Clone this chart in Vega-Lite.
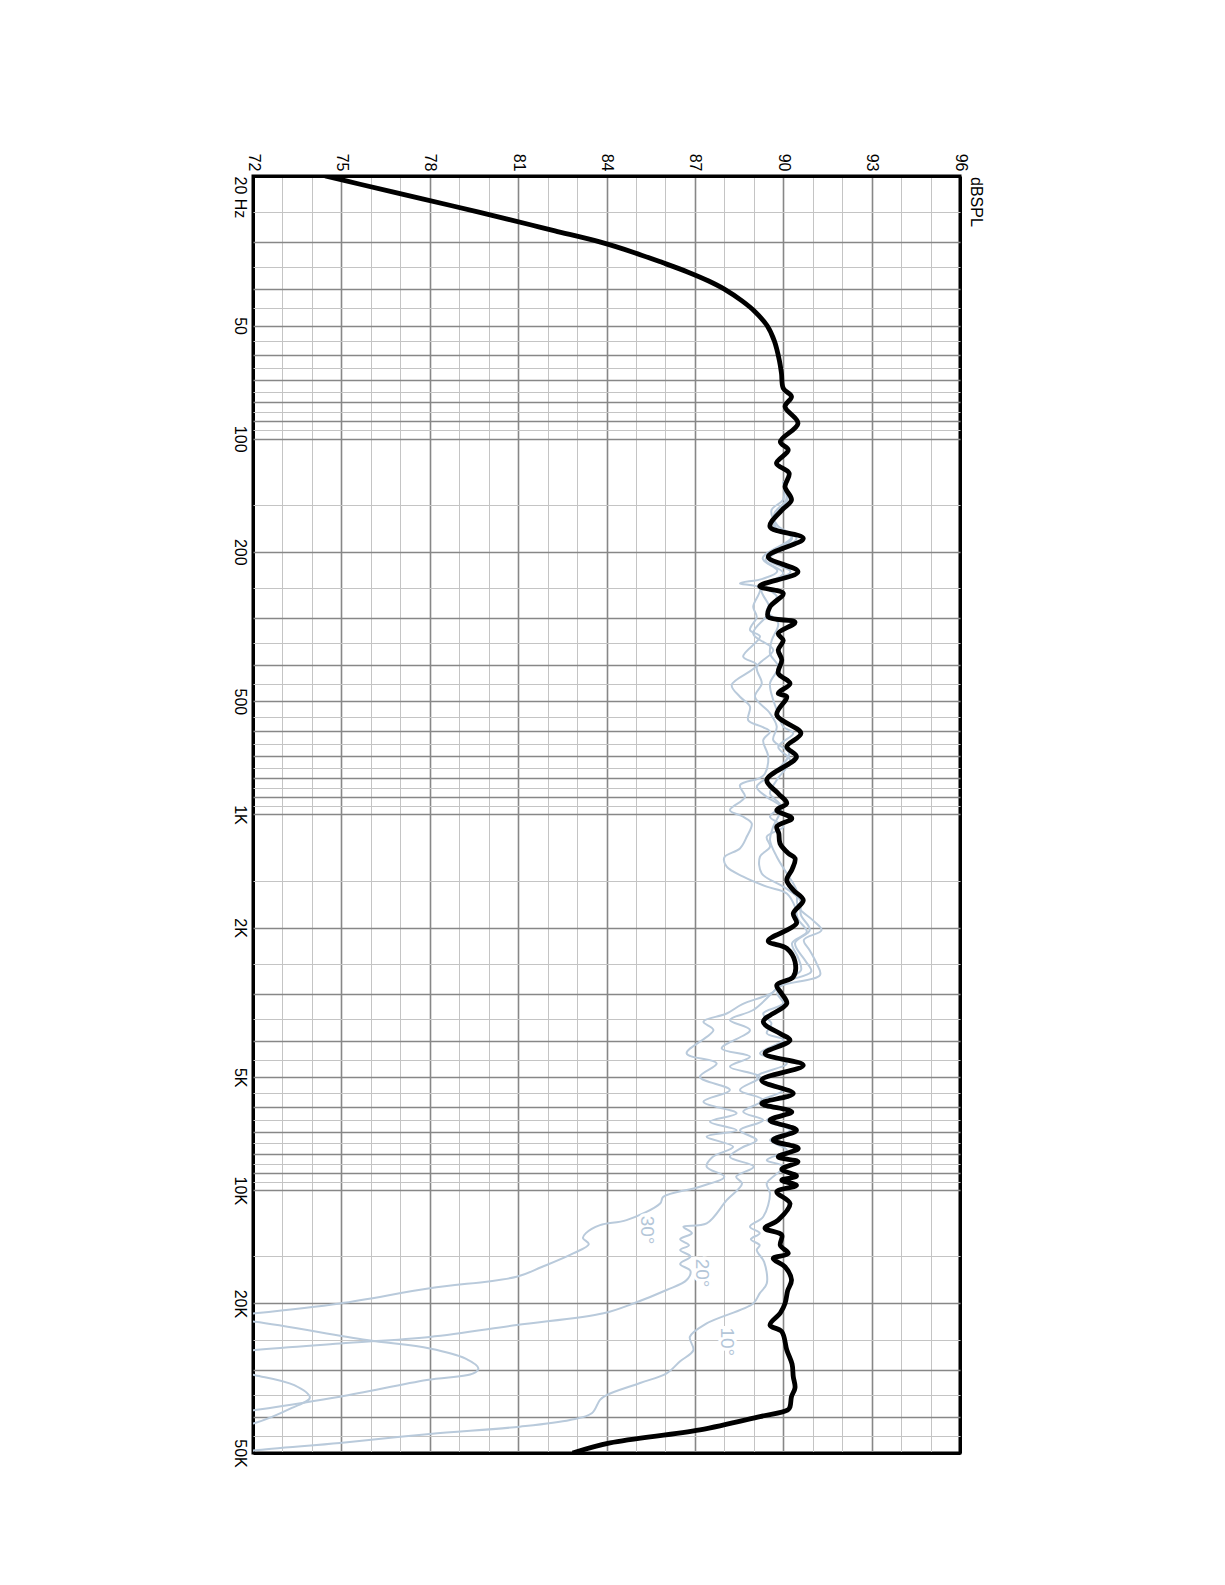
{
  "$schema": "https://vega.github.io/schema/vega-lite/v6.json",
  "width": 707,
  "height": 1277,
  "autosize": {"type": "none"},
  "padding": {"left": 253, "top": 176, "right": 265, "bottom": 132},
  "background": "white",
  "config": {
    "view": {"stroke": "black", "strokeWidth": 3},
    "axis": {"labelFont": "Liberation Sans", "labelFontSize": 16, "labelColor": "black", "domain": false, "ticks": false, "tickSize": 0, "title": null, "labelOverlap": false, "labelFlush": false, "labelBound": false}
  },
  "datasets": {
    "resp": [
      {"series":"0","freq":20,"spl":74.45},{"series":"0","freq":21,"spl":75.6},{"series":"0","freq":22,"spl":76.7},{"series":"0","freq":23,"spl":77.75},{"series":"0","freq":24,"spl":78.75},{"series":"0","freq":25,"spl":79.7},{"series":"0","freq":26,"spl":80.6},{"series":"0","freq":27,"spl":81.45},{"series":"0","freq":28,"spl":82.25},{"series":"0","freq":30,"spl":83.8},{"series":"0","freq":32,"spl":84.95},{"series":"0","freq":34,"spl":85.9},{"series":"0","freq":36,"spl":86.75},{"series":"0","freq":38,"spl":87.45},{"series":"0","freq":40,"spl":88.0},{"series":"0","freq":43,"spl":88.6},{"series":"0","freq":46,"spl":89.05},{"series":"0","freq":50,"spl":89.45},{"series":"0","freq":55,"spl":89.7},{"series":"0","freq":62,"spl":89.87},{"series":"0","freq":67,"spl":89.94},{"series":"0","freq":73.4,"spl":90.0},{"series":"0","freq":77.3,"spl":90.28},{"series":"0","freq":82.2,"spl":90.06},{"series":"0","freq":91,"spl":90.5},{"series":"0","freq":101.9,"spl":89.9},{"series":"0","freq":107.2,"spl":90.17},{"series":"0","freq":116.3,"spl":89.77},{"series":"0","freq":123.6,"spl":90.2},{"series":"0","freq":134.2,"spl":90.06},{"series":"0","freq":145.6,"spl":90.28},{"series":"0","freq":155,"spl":89.95},{"series":"0","freq":171.5,"spl":89.55},{"series":"0","freq":184.2,"spl":90.68},{"series":"0","freq":206,"spl":89.49},{"series":"0","freq":226,"spl":90.5},{"series":"0","freq":247,"spl":89.2},{"series":"0","freq":258,"spl":90.0},{"series":"0","freq":280,"spl":89.55},{"series":"0","freq":298,"spl":89.49},{"series":"0","freq":308,"spl":90.4},{"series":"0","freq":330,"spl":89.83},{"series":"0","freq":344,"spl":90.0},{"series":"0","freq":365,"spl":89.83},{"series":"0","freq":388,"spl":89.95},{"series":"0","freq":421,"spl":89.83},{"series":"0","freq":448,"spl":90.23},{"series":"0","freq":476,"spl":89.83},{"series":"0","freq":486,"spl":90.12},{"series":"0","freq":543,"spl":89.78},{"series":"0","freq":608,"spl":90.6},{"series":"0","freq":660,"spl":90.12},{"series":"0","freq":702,"spl":90.45},{"series":"0","freq":809,"spl":89.44},{"series":"0","freq":879,"spl":89.83},{"series":"0","freq":934,"spl":90.12},{"series":"0","freq":973,"spl":89.78},{"series":"0","freq":1024,"spl":90.29},{"series":"0","freq":1077,"spl":89.78},{"series":"0","freq":1123,"spl":89.85},{"series":"0","freq":1194,"spl":89.89},{"series":"0","freq":1268,"spl":90.17},{"series":"0","freq":1308,"spl":90.4},{"series":"0","freq":1400,"spl":90.3},{"series":"0","freq":1494,"spl":90.12},{"series":"0","freq":1588,"spl":90.34},{"series":"0","freq":1690,"spl":90.68},{"series":"0","freq":1833,"spl":90.34},{"series":"0","freq":1949,"spl":90.45},{"series":"0","freq":2170,"spl":89.49},{"series":"0","freq":2270,"spl":90.12},{"series":"0","freq":2465,"spl":90.4},{"series":"0","freq":2703,"spl":90.34},{"series":"0","freq":2845,"spl":89.78},{"series":"0","freq":3000,"spl":89.95},{"series":"0","freq":3184,"spl":90.12},{"series":"0","freq":3560,"spl":89.32},{"series":"0","freq":3828,"spl":89.89},{"series":"0","freq":3985,"spl":90.23},{"series":"0","freq":4325,"spl":89.38},{"series":"0","freq":4646,"spl":90.68},{"series":"0","freq":5092,"spl":89.27},{"series":"0","freq":5525,"spl":90.34},{"series":"0","freq":5875,"spl":89.27},{"series":"0","freq":6185,"spl":90.29},{"series":"0","freq":6507,"spl":89.55},{"series":"0","freq":6920,"spl":90.45},{"series":"0","freq":7353,"spl":89.66},{"series":"0","freq":7734,"spl":90.51},{"series":"0","freq":8145,"spl":89.83},{"series":"0","freq":8396,"spl":90.5},{"series":"0","freq":8790,"spl":89.95},{"series":"0","freq":9160,"spl":90.45},{"series":"0","freq":9400,"spl":89.95},{"series":"0","freq":9700,"spl":90.45},{"series":"0","freq":10090,"spl":89.78},{"series":"0","freq":10840,"spl":90.23},{"series":"0","freq":12000,"spl":89.83},{"series":"0","freq":12620,"spl":89.38},{"series":"0","freq":13150,"spl":89.95},{"series":"0","freq":14000,"spl":89.9},{"series":"0","freq":14720,"spl":90.17},{"series":"0","freq":15180,"spl":89.66},{"series":"0","freq":15980,"spl":90.06},{"series":"0","freq":17320,"spl":90.28},{"series":"0","freq":18500,"spl":90.15},{"series":"0","freq":20000,"spl":90.06},{"series":"0","freq":21200,"spl":89.9},{"series":"0","freq":22820,"spl":89.55},{"series":"0","freq":23770,"spl":89.95},{"series":"0","freq":26590,"spl":90.12},{"series":"0","freq":29000,"spl":90.3},{"series":"0","freq":31320,"spl":90.34},{"series":"0","freq":33500,"spl":90.4},{"series":"0","freq":35400,"spl":90.28},{"series":"0","freq":37660,"spl":90.23},{"series":"0","freq":38430,"spl":90.15},{"series":"0","freq":40000,"spl":89.21},{"series":"0","freq":43400,"spl":87.17},{"series":"0","freq":47000,"spl":84.12},{"series":"0","freq":50000,"spl":82.85},

      {"series":"10","freq":130,"spl":90.0},{"series":"10","freq":145,"spl":90.15},{"series":"10","freq":158,"spl":89.75},{"series":"10","freq":172,"spl":89.7},{"series":"10","freq":184,"spl":90.45},{"series":"10","freq":210,"spl":89.5},{"series":"10","freq":226,"spl":90.25},{"series":"10","freq":246,"spl":89.35},{"series":"10","freq":263,"spl":89.78},{"series":"10","freq":286,"spl":89.44},{"series":"10","freq":310,"spl":89.83},{"series":"10","freq":344,"spl":89.61},{"series":"10","freq":373,"spl":89.55},{"series":"10","freq":405,"spl":89.83},{"series":"10","freq":448,"spl":89.55},{"series":"10","freq":496,"spl":89.66},{"series":"10","freq":527,"spl":89.78},{"series":"10","freq":584,"spl":90.0},{"series":"10","freq":608,"spl":90.34},{"series":"10","freq":661,"spl":89.83},{"series":"10","freq":717,"spl":90.23},{"series":"10","freq":810,"spl":89.78},{"series":"10","freq":879,"spl":89.55},{"series":"10","freq":953,"spl":89.94},{"series":"10","freq":1077,"spl":89.66},{"series":"10","freq":1169,"spl":89.55},{"series":"10","freq":1295,"spl":89.78},{"series":"10","freq":1435,"spl":90.12},{"series":"10","freq":1590,"spl":90.45},{"series":"10","freq":1760,"spl":90.5},{"series":"10","freq":1910,"spl":91.0},{"series":"10","freq":2030,"spl":91.3},{"series":"10","freq":2158,"spl":90.7},{"series":"10","freq":2300,"spl":90.9},{"series":"10","freq":2490,"spl":91.13},{"series":"10","freq":2673,"spl":91.25},{"series":"10","freq":2871,"spl":89.89},{"series":"10","freq":3000,"spl":89.8},{"series":"10","freq":3180,"spl":90.0},{"series":"10","freq":3385,"spl":89.32},{"series":"10","freq":3600,"spl":89.6},{"series":"10","freq":3820,"spl":89.44},{"series":"10","freq":3980,"spl":90.0},{"series":"10","freq":4322,"spl":89.21},{"series":"10","freq":4594,"spl":90.12},{"series":"10","freq":4990,"spl":89.1},{"series":"10","freq":5410,"spl":90.0},{"series":"10","freq":5810,"spl":89.21},{"series":"10","freq":6180,"spl":90.12},{"series":"10","freq":6510,"spl":89.44},{"series":"10","freq":6920,"spl":90.23},{"series":"10","freq":7350,"spl":89.55},{"series":"10","freq":7810,"spl":90.12},{"series":"10","freq":8310,"spl":89.44},{"series":"10","freq":8650,"spl":90.0},{"series":"10","freq":9590,"spl":89.44},{"series":"10","freq":10190,"spl":89.55},{"series":"10","freq":11760,"spl":89.32},{"series":"10","freq":12500,"spl":88.87},{"series":"10","freq":13000,"spl":89.2},{"series":"10","freq":13500,"spl":88.9},{"series":"10","freq":14000,"spl":89.2},{"series":"10","freq":14420,"spl":89.1},{"series":"10","freq":15500,"spl":89.35},{"series":"10","freq":17700,"spl":89.44},{"series":"10","freq":18800,"spl":89.2},{"series":"10","freq":20000,"spl":88.98},{"series":"10","freq":22600,"spl":87.4},{"series":"10","freq":24540,"spl":86.83},{"series":"10","freq":26620,"spl":86.95},{"series":"10","freq":28500,"spl":86.5},{"series":"10","freq":30700,"spl":86.04},{"series":"10","freq":32560,"spl":85.14},{"series":"10","freq":35060,"spl":84.0},{"series":"10","freq":36100,"spl":83.78},{"series":"10","freq":39200,"spl":83.5},{"series":"10","freq":40850,"spl":82.76},{"series":"10","freq":42550,"spl":81.06},{"series":"10","freq":44500,"spl":78.0},{"series":"10","freq":47000,"spl":74.95},{"series":"10","freq":49200,"spl":72.07},{"series":"10","freq":50000,"spl":71.5},

      {"series":"20","freq":130,"spl":90.0},{"series":"20","freq":145,"spl":90.1},{"series":"20","freq":158,"spl":89.7},{"series":"20","freq":172,"spl":89.75},{"series":"20","freq":184,"spl":90.3},{"series":"20","freq":210,"spl":89.4},{"series":"20","freq":228,"spl":90.0},{"series":"20","freq":250,"spl":89.25},{"series":"20","freq":286,"spl":89.55},{"series":"20","freq":330,"spl":88.98},{"series":"20","freq":365,"spl":89.66},{"series":"20","freq":405,"spl":89.1},{"series":"20","freq":448,"spl":89.27},{"series":"20","freq":486,"spl":89.04},{"series":"20","freq":538,"spl":89.55},{"series":"20","freq":584,"spl":89.78},{"series":"20","freq":634,"spl":89.66},{"series":"20","freq":688,"spl":90.2},{"series":"20","freq":778,"spl":89.66},{"series":"20","freq":844,"spl":89.1},{"series":"20","freq":898,"spl":89.44},{"series":"20","freq":953,"spl":89.89},{"series":"20","freq":1014,"spl":89.55},{"series":"20","freq":1077,"spl":90.0},{"series":"20","freq":1146,"spl":89.44},{"series":"20","freq":1219,"spl":89.55},{"series":"20","freq":1295,"spl":89.21},{"series":"20","freq":1435,"spl":89.27},{"series":"20","freq":1556,"spl":90.0},{"series":"20","freq":1690,"spl":90.57},{"series":"20","freq":1850,"spl":90.6},{"series":"20","freq":2030,"spl":90.9},{"series":"20","freq":2200,"spl":90.4},{"series":"20","freq":2450,"spl":90.75},{"series":"20","freq":2620,"spl":90.95},{"series":"20","freq":2800,"spl":90.0},{"series":"20","freq":3000,"spl":89.6},{"series":"20","freq":3313,"spl":88.98},{"series":"20","freq":3524,"spl":88.19},{"series":"20","freq":3747,"spl":88.87},{"series":"20","freq":4190,"spl":87.91},{"series":"20","freq":4410,"spl":88.87},{"series":"20","freq":4690,"spl":88.19},{"series":"20","freq":4990,"spl":89.21},{"series":"20","freq":5410,"spl":88.53},{"series":"20","freq":5750,"spl":89.32},{"series":"20","freq":6180,"spl":88.64},{"series":"20","freq":6510,"spl":89.32},{"series":"20","freq":6920,"spl":88.53},{"series":"20","freq":7350,"spl":89.1},{"series":"20","freq":7700,"spl":88.6},{"series":"20","freq":8150,"spl":88.19},{"series":"20","freq":8650,"spl":89.0},{"series":"20","freq":9200,"spl":88.4},{"series":"20","freq":9590,"spl":88.6},{"series":"20","freq":10620,"spl":88.08},{"series":"20","freq":12250,"spl":87.4},{"series":"20","freq":12500,"spl":86.61},{"series":"20","freq":13000,"spl":86.9},{"series":"20","freq":13500,"spl":86.5},{"series":"20","freq":14000,"spl":86.8},{"series":"20","freq":14420,"spl":86.5},{"series":"20","freq":15000,"spl":86.85},{"series":"20","freq":15700,"spl":86.5},{"series":"20","freq":16400,"spl":86.85},{"series":"20","freq":17330,"spl":86.72},{"series":"20","freq":18420,"spl":86.04},{"series":"20","freq":20000,"spl":84.91},{"series":"20","freq":21240,"spl":83.9},{"series":"20","freq":22830,"spl":80.95},{"series":"20","freq":24550,"spl":78.0},{"series":"20","freq":25550,"spl":74.95},{"series":"20","freq":26600,"spl":72.07},{"series":"20","freq":28000,"spl":69.5},{"series":"20","freq":29500,"spl":70.5},{"series":"20","freq":31040,"spl":72.07},{"series":"20","freq":33000,"spl":73.4},{"series":"20","freq":35600,"spl":73.93},{"series":"20","freq":38000,"spl":73.3},{"series":"20","freq":41600,"spl":72.07},{"series":"20","freq":44000,"spl":70.0},{"series":"20","freq":47000,"spl":68.5},{"series":"20","freq":50000,"spl":68.0},

      {"series":"30","freq":130,"spl":90.0},{"series":"30","freq":145,"spl":90.0},{"series":"30","freq":155,"spl":89.6},{"series":"30","freq":170,"spl":89.8},{"series":"30","freq":182,"spl":90.3},{"series":"30","freq":208,"spl":89.3},{"series":"30","freq":225,"spl":89.8},{"series":"30","freq":236,"spl":89.3},{"series":"30","freq":242.7,"spl":88.53},{"series":"30","freq":250,"spl":89.21},{"series":"30","freq":280,"spl":88.98},{"series":"30","freq":298,"spl":89.1},{"series":"30","freq":323,"spl":88.87},{"series":"30","freq":336,"spl":89.21},{"series":"30","freq":380,"spl":88.64},{"series":"30","freq":400,"spl":89.1},{"series":"30","freq":452,"spl":88.25},{"series":"30","freq":486,"spl":88.53},{"series":"30","freq":516,"spl":88.87},{"series":"30","freq":561,"spl":88.81},{"series":"30","freq":584,"spl":89.27},{"series":"30","freq":602,"spl":89.55},{"series":"30","freq":634,"spl":89.32},{"series":"30","freq":702,"spl":89.49},{"series":"30","freq":778,"spl":89.38},{"series":"30","freq":800,"spl":89.2},{"series":"30","freq":836,"spl":88.53},{"series":"30","freq":898,"spl":88.7},{"series":"30","freq":973,"spl":88.19},{"series":"30","freq":1014,"spl":88.64},{"series":"30","freq":1057,"spl":88.93},{"series":"30","freq":1146,"spl":88.76},{"series":"30","freq":1231,"spl":88.53},{"series":"30","freq":1300,"spl":88.0},{"series":"30","freq":1377,"spl":88.08},{"series":"30","freq":1463,"spl":88.64},{"series":"30","freq":1556,"spl":89.44},{"series":"30","freq":1622,"spl":90.12},{"series":"30","freq":1760,"spl":90.4},{"series":"30","freq":1900,"spl":90.5},{"series":"30","freq":2050,"spl":90.8},{"series":"30","freq":2200,"spl":90.3},{"series":"30","freq":2400,"spl":90.5},{"series":"30","freq":2600,"spl":90.6},{"series":"30","freq":2800,"spl":89.9},{"series":"30","freq":2966,"spl":89.66},{"series":"30","freq":3200,"spl":88.6},{"series":"30","freq":3385,"spl":88.08},{"series":"30","freq":3560,"spl":87.29},{"series":"30","freq":3747,"spl":87.63},{"series":"30","freq":4322,"spl":86.72},{"series":"30","freq":4594,"spl":87.74},{"series":"30","freq":4990,"spl":87.17},{"series":"30","freq":5410,"spl":88.19},{"series":"30","freq":5810,"spl":87.29},{"series":"30","freq":6240,"spl":88.42},{"series":"30","freq":6570,"spl":87.51},{"series":"30","freq":6920,"spl":88.42},{"series":"30","freq":7200,"spl":87.4},{"series":"30","freq":7660,"spl":88.3},{"series":"30","freq":8150,"spl":87.6},{"series":"30","freq":8650,"spl":87.4},{"series":"30","freq":9200,"spl":88.0},{"series":"30","freq":9780,"spl":87.17},{"series":"30","freq":10400,"spl":85.93},{"series":"30","freq":10840,"spl":85.82},{"series":"30","freq":12000,"spl":84.68},{"series":"30","freq":12380,"spl":83.78},{"series":"30","freq":13000,"spl":83.3},{"series":"30","freq":13400,"spl":83.2},{"series":"30","freq":13900,"spl":83.4},{"series":"30","freq":14720,"spl":82.87},{"series":"30","freq":16000,"spl":81.8},{"series":"30","freq":16980,"spl":80.95},{"series":"30","freq":18230,"spl":78.0},{"series":"30","freq":20000,"spl":74.95},{"series":"30","freq":21250,"spl":72.07},{"series":"30","freq":21800,"spl":70.5},{"series":"30","freq":22370,"spl":72.07},{"series":"30","freq":25010,"spl":75.86},{"series":"30","freq":26350,"spl":78.0},{"series":"30","freq":28000,"spl":79.2},{"series":"30","freq":29770,"spl":79.65},{"series":"30","freq":30710,"spl":79.48},{"series":"30","freq":31970,"spl":77.9},{"series":"30","freq":35400,"spl":74.95},{"series":"30","freq":38430,"spl":72.07},{"series":"30","freq":41000,"spl":69.5},{"series":"30","freq":45000,"spl":67.0},{"series":"30","freq":50000,"spl":65.0}
    ],
    "labels": [
      {"label": "30°", "freq": 12760, "spl": 85.36},
      {"label": "20°", "freq": 16600, "spl": 87.23},
      {"label": "10°", "freq": 25300, "spl": 88.08}
    ]
  },
  "layer": [
    {
      "data": {"name": "resp"},
      "transform": [{"filter": "datum.series != '0'"}],
      "mark": {"type": "line", "color": "#b9cadb", "strokeWidth": 2, "clip": true, "strokeJoin": "round", "interpolate": "catmull-rom"},
      "encoding": {
        "x": {"field": "spl", "type": "quantitative", "scale": {"domain": [72, 96], "nice": false, "zero": false},
          "axis": {"orient": "bottom", "values": [73,74,76,77,79,80,82,83,85,86,88,89,91,92,94,95], "grid": true, "gridColor": "#c4c4c4", "gridWidth": 1, "labels": false}},
        "y": {"field": "freq", "type": "quantitative", "scale": {"type": "log", "domain": [20, 50000], "nice": false, "reverse": true},
          "axis": {"orient": "right", "values": [25,35,45,55,65,75,85,95,150,250,350,450,550,650,750,850,950,1500,2500,3500,4500,5500,6500,7500,8500,9500,15000,25000,35000,45000], "grid": true, "gridColor": "#c4c4c4", "gridWidth": 1, "labels": false}},
        "detail": {"field": "series"},
        "order": {"field": "freq", "type": "quantitative"}
      }
    },
    {
      "data": {"name": "resp"},
      "transform": [{"filter": "datum.series == '0'"}],
      "mark": {"type": "line", "color": "black", "strokeWidth": 4.8, "clip": true, "strokeJoin": "round", "interpolate": "catmull-rom"},
      "encoding": {
        "x": {"field": "spl", "type": "quantitative",
          "axis": {"orient": "top", "values": [72,75,78,81,84,87,90,93,96], "grid": true,
            "gridColor": {"condition": {"test": "datum.value == 72 || datum.value == 96", "value": "black"}, "value": "#878787"},
            "gridWidth": {"condition": {"test": "datum.value == 72 || datum.value == 96", "value": 3}, "value": 1.6},
            "labelAngle": 90, "labelAlign": "right", "labelBaseline": "middle", "labelPadding": 5}},
        "y": {"field": "freq", "type": "quantitative",
          "axis": {"orient": "left", "values": [20,30,40,50,60,70,80,90,100,200,300,400,500,600,700,800,900,1000,2000,3000,4000,5000,6000,7000,8000,9000,10000,20000,30000,40000,50000], "grid": true,
            "gridColor": {"condition": {"test": "datum.value == 20 || datum.value == 50000", "value": "black"}, "value": "#878787"},
            "gridWidth": {"condition": {"test": "datum.value == 20 || datum.value == 50000", "value": 3}, "value": 1.6},
            "labelAngle": 90, "labelAlign": {"condition": {"test": "datum.value == 20", "value": "left"}, "value": "center"}, "labelBaseline": "top", "labelPadding": 6,
            "labelExpr": "datum.value == 20 ? '20 Hz' : datum.value == 50 ? '50' : datum.value == 100 ? '100' : datum.value == 200 ? '200' : datum.value == 500 ? '500' : datum.value == 1000 ? '1K' : datum.value == 2000 ? '2K' : datum.value == 5000 ? '5K' : datum.value == 10000 ? '10K' : datum.value == 20000 ? '20K' : datum.value == 50000 ? '50K' : ''"}},
        "order": {"field": "freq", "type": "quantitative"}
      }
    },
    {
      "data": {"name": "labels"},
      "mark": {"type": "text", "angle": 90, "align": "center", "baseline": "middle", "font": "Liberation Sans", "fontSize": 19, "fill": "white", "stroke": "white", "strokeWidth": 6},
      "encoding": {
        "x": {"field": "spl", "type": "quantitative", "axis": null},
        "y": {"field": "freq", "type": "quantitative", "axis": null},
        "text": {"field": "label"}
      }
    },
    {
      "data": {"name": "labels"},
      "mark": {"type": "text", "angle": 90, "align": "center", "baseline": "middle", "font": "Liberation Sans", "fontSize": 19, "color": "#b4c6d8"},
      "encoding": {
        "x": {"field": "spl", "type": "quantitative", "axis": null},
        "y": {"field": "freq", "type": "quantitative", "axis": null},
        "text": {"field": "label"}
      }
    },
    {
      "data": {"values": [{"t": "dBSPL"}]},
      "mark": {"type": "text", "angle": 90, "align": "left", "baseline": "middle", "font": "Liberation Sans", "fontSize": 16, "color": "black", "dx": 1, "dy": -16},
      "encoding": {
        "x": {"datum": 96, "type": "quantitative", "axis": null},
        "y": {"datum": 20, "type": "quantitative", "axis": null},
        "text": {"field": "t"}
      }
    }
  ],
  "resolve": {"axis": {"x": "independent", "y": "independent"}}
}
